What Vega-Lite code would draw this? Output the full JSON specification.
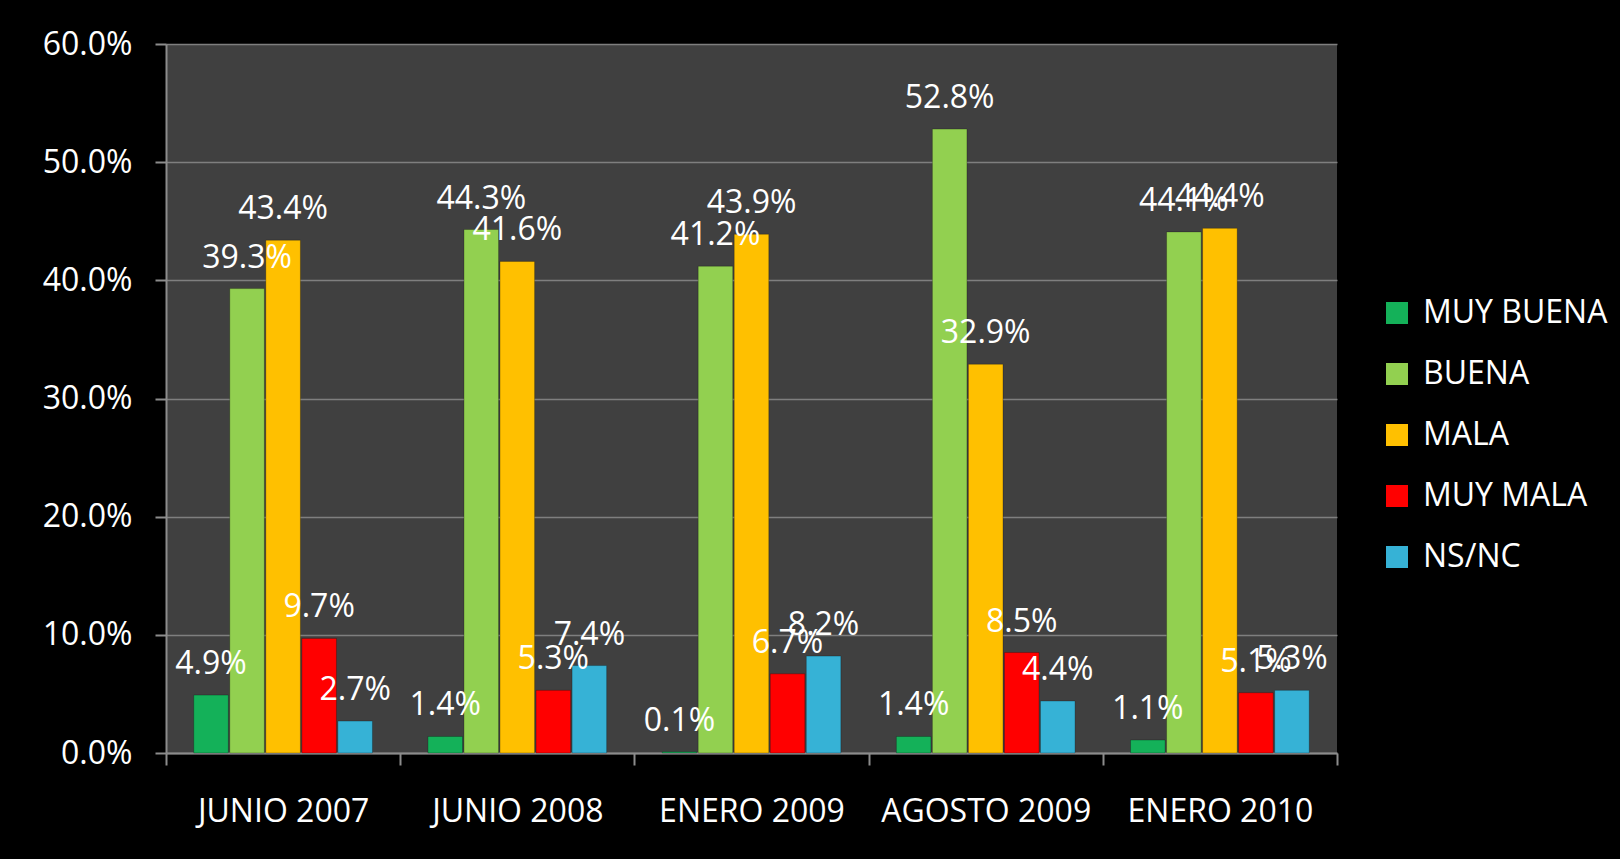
{
  "$schema": "https://vega.github.io/schema/vega-lite/v6.json",
  "autosize": "none",
  "width": 1171,
  "height": 709,
  "padding": {"left": 166, "top": 44, "right": 283, "bottom": 106},
  "background": "#000000",
  "config": {
    "font": "Open Sans",
    "view": {"fill": "#404040", "stroke": null}
  },
  "data": {
    "values": [
      {"periodo": "JUNIO 2007", "opinion": "MUY BUENA", "valor": 0.049},
      {"periodo": "JUNIO 2007", "opinion": "BUENA", "valor": 0.393},
      {"periodo": "JUNIO 2007", "opinion": "MALA", "valor": 0.434},
      {"periodo": "JUNIO 2007", "opinion": "MUY MALA", "valor": 0.097},
      {"periodo": "JUNIO 2007", "opinion": "NS/NC", "valor": 0.027},
      {"periodo": "JUNIO 2008", "opinion": "MUY BUENA", "valor": 0.014},
      {"periodo": "JUNIO 2008", "opinion": "BUENA", "valor": 0.443},
      {"periodo": "JUNIO 2008", "opinion": "MALA", "valor": 0.416},
      {"periodo": "JUNIO 2008", "opinion": "MUY MALA", "valor": 0.053},
      {"periodo": "JUNIO 2008", "opinion": "NS/NC", "valor": 0.074},
      {"periodo": "ENERO 2009", "opinion": "MUY BUENA", "valor": 0.001},
      {"periodo": "ENERO 2009", "opinion": "BUENA", "valor": 0.412},
      {"periodo": "ENERO 2009", "opinion": "MALA", "valor": 0.439},
      {"periodo": "ENERO 2009", "opinion": "MUY MALA", "valor": 0.067},
      {"periodo": "ENERO 2009", "opinion": "NS/NC", "valor": 0.082},
      {"periodo": "AGOSTO 2009", "opinion": "MUY BUENA", "valor": 0.014},
      {"periodo": "AGOSTO 2009", "opinion": "BUENA", "valor": 0.528},
      {"periodo": "AGOSTO 2009", "opinion": "MALA", "valor": 0.329},
      {"periodo": "AGOSTO 2009", "opinion": "MUY MALA", "valor": 0.085},
      {"periodo": "AGOSTO 2009", "opinion": "NS/NC", "valor": 0.044},
      {"periodo": "ENERO 2010", "opinion": "MUY BUENA", "valor": 0.011},
      {"periodo": "ENERO 2010", "opinion": "BUENA", "valor": 0.441},
      {"periodo": "ENERO 2010", "opinion": "MALA", "valor": 0.444},
      {"periodo": "ENERO 2010", "opinion": "MUY MALA", "valor": 0.051},
      {"periodo": "ENERO 2010", "opinion": "NS/NC", "valor": 0.053}
    ]
  },
  "encoding": {
    "x": {
      "field": "periodo",
      "type": "nominal",
      "sort": ["JUNIO 2007", "JUNIO 2008", "ENERO 2009", "AGOSTO 2009", "ENERO 2010"],
      "scale": {"paddingInner": 0, "paddingOuter": 0},
      "axis": {
        "title": null,
        "labelAngle": 0,
        "labelColor": "#ffffff",
        "labelFontSize": 32,
        "labelPadding": 31,
        "labelLimit": 400,
        "tickBand": "extent",
        "tickSize": 12,
        "tickColor": "#8c8c8c",
        "tickWidth": 2,
        "domainColor": "#8c8c8c",
        "domainWidth": 2,
        "grid": false
      }
    },
    "xOffset": {
      "field": "opinion",
      "type": "nominal",
      "sort": ["MUY BUENA", "BUENA", "MALA", "MUY MALA", "NS/NC"],
      "scale": {"paddingInner": 0.04, "paddingOuter": 0.77}
    },
    "y": {
      "field": "valor",
      "type": "quantitative",
      "scale": {"domain": [0, 0.6], "nice": false},
      "axis": {
        "title": null,
        "values": [0, 0.1, 0.2, 0.3, 0.4, 0.5, 0.6],
        "format": ".1%",
        "labelColor": "#ffffff",
        "labelFontSize": 32,
        "labelPadding": 23,
        "tickSize": 11,
        "tickColor": "#8c8c8c",
        "tickWidth": 2,
        "domainColor": "#8c8c8c",
        "domainWidth": 2,
        "grid": true,
        "gridColor": "#7f7f7f",
        "gridWidth": 1.5
      }
    }
  },
  "layer": [
    {
      "mark": {"type": "bar", "stroke": "#000000", "strokeOpacity": 0.25, "strokeWidth": 1},
      "encoding": {
        "color": {
          "field": "opinion",
          "type": "nominal",
          "sort": ["MUY BUENA", "BUENA", "MALA", "MUY MALA", "NS/NC"],
          "scale": {
            "domain": ["MUY BUENA", "BUENA", "MALA", "MUY MALA", "NS/NC"],
            "range": ["#14b159", "#92d050", "#ffc000", "#ff0000", "#36b2d6"]
          },
          "legend": {
            "title": null,
            "orient": "none",
            "legendX": 1215,
            "legendY": 253,
            "padding": 0,
            "symbolType": "square",
            "symbolSize": 484,
            "symbolStrokeWidth": 0,
            "symbolOpacity": 1,
            "labelColor": "#ffffff",
            "labelFontSize": 32,
            "labelOffset": 10,
            "rowPadding": 29,
            "labelLimit": 400
          }
        }
      }
    },
    {
      "mark": {"type": "text", "color": "#ffffff", "fontSize": 32, "baseline": "alphabetic", "align": "center", "dy": -21},
      "encoding": {
        "text": {"field": "valor", "type": "quantitative", "format": ".1%"}
      }
    }
  ]
}
